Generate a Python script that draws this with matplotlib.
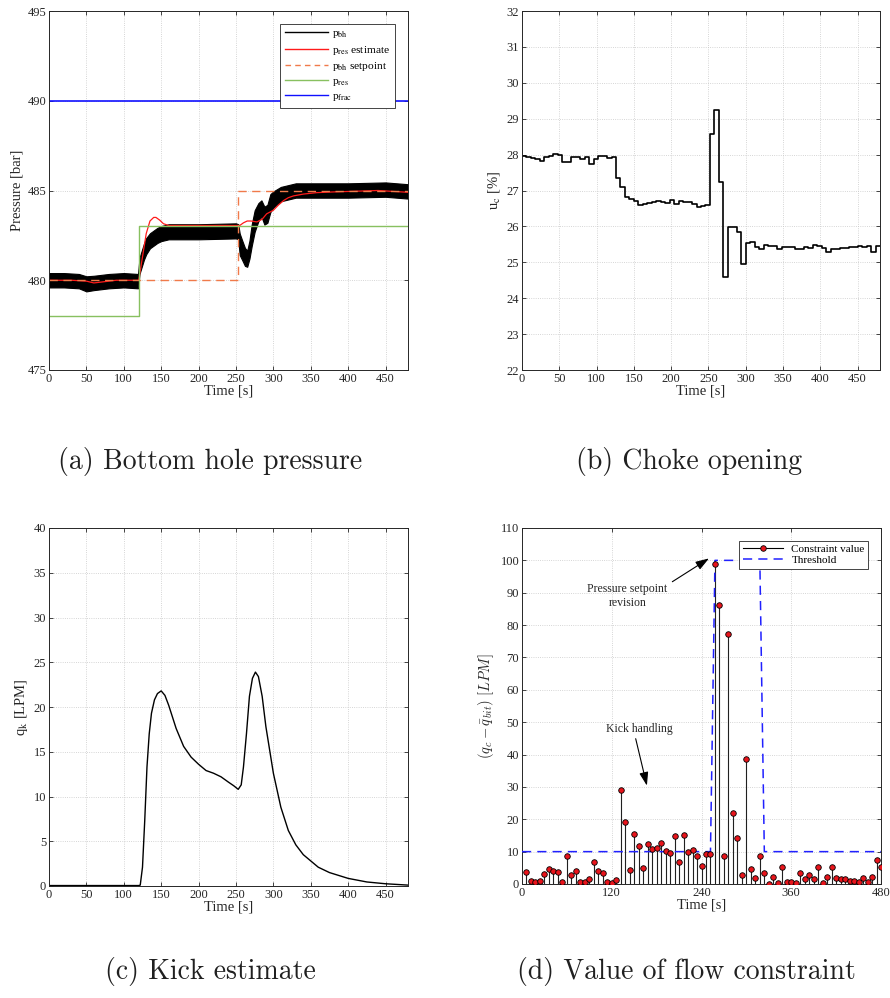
"""
Kick handling results - 4 panel figure
"""

import numpy as np
import matplotlib
matplotlib.use('Agg')
import matplotlib.pyplot as plt
from matplotlib.lines import Line2D

plt.rcParams['font.family'] = ['Liberation Serif', 'DejaVu Serif']
plt.rcParams['mathtext.fontset'] = 'stix'
plt.rcParams['font.size'] = 9
plt.rcParams['axes.unicode_minus'] = False

# ---------------- (a) bottom hole pressure ----------------
pbh_t = [0, 20, 40, 50, 60, 80, 100, 119, 121, 124, 127, 130, 135, 140, 145, 150, 160,
         200, 250, 253, 255, 258, 262, 265, 268, 271, 275, 280, 284, 288, 292, 296, 300,
         310, 320, 330, 350, 400, 450, 480]
pbh_center = [480.0, 480.0, 479.95, 479.8, 479.85, 479.95, 480.0, 479.95, 480.8, 481.2,
              481.6, 481.9, 482.2, 482.35, 482.5, 482.6, 482.7, 482.7, 482.75, 482.7,
              482.0, 481.7, 481.3, 481.2, 481.7, 482.5, 483.3, 483.8, 484.0, 483.6,
              483.7, 484.3, 484.5, 484.8, 484.9, 485.0, 485.0, 485.0, 485.05, 484.95]
pbh_spread = [0.4, 0.4, 0.4, 0.42, 0.4, 0.4, 0.4, 0.4, 0.45, 0.45, 0.45, 0.45, 0.42, 0.42,
              0.42, 0.42, 0.42, 0.42, 0.42, 0.42, 0.6, 0.55, 0.5, 0.45, 0.5, 0.6, 0.6,
              0.5, 0.45, 0.5, 0.5, 0.5, 0.45, 0.4, 0.4, 0.4, 0.4, 0.4, 0.4, 0.4]

pres_est_t = [0, 30, 50, 60, 70, 90, 120, 125, 130, 135, 140, 143, 148, 153, 160, 250,
              255, 260, 265, 270, 278, 285, 291, 300, 307, 314, 320, 327, 340, 358, 380,
              403, 440, 480]
pres_est = [480.0, 480.0, 479.95, 479.85, 479.9, 480.0, 480.0, 481.3, 482.6, 483.3, 483.5,
            483.5, 483.35, 483.15, 483.05, 483.05, 483.05, 483.2, 483.3, 483.3, 483.25,
            483.4, 483.7, 483.9, 484.2, 484.45, 484.6, 484.7, 484.8, 484.88, 484.92,
            484.95, 485.0, 484.9]

setpoint_t = [0, 253, 253, 480]
setpoint = [480, 480, 485, 485]
pres_t = [0, 120, 120, 480]
pres = [478, 478, 483, 483]
pfrac_t = [0, 480]
pfrac = [490, 490]

# ---------------- (b) choke opening (6 s samples) ----------------
uc = [27.97, 27.93, 27.90, 27.88, 27.82, 27.93, 27.97, 28.02, 27.98, 27.78,
      27.78, 27.93, 27.92, 27.88, 27.92, 27.75, 27.87, 27.95, 27.95, 27.90,
      27.93, 27.35, 27.10, 26.82, 26.75, 26.70, 26.60, 26.63, 26.65, 26.67,
      26.70, 26.68, 26.65, 26.73, 26.62, 26.72, 26.68, 26.67, 26.62, 26.55,
      26.58, 26.60, 28.58, 29.25, 27.25, 24.60, 25.97, 25.97, 25.85, 24.95,
      25.55, 25.57, 25.42, 25.38, 25.47, 25.45, 25.45, 25.37, 25.42, 25.42,
      25.42, 25.37, 25.36, 25.43, 25.40, 25.48, 25.45, 25.40, 25.30, 25.38,
      25.37, 25.40, 25.40, 25.42, 25.42, 25.45, 25.43, 25.45, 25.28, 25.45]
uc_t = np.arange(0, 486, 6)

# ---------------- (c) kick estimate ----------------
qk_t = [0, 60, 120, 122, 125, 128, 131, 134, 137, 141, 145, 150, 155, 160, 165, 170, 180,
        190, 200, 210, 220, 230, 240, 247, 253, 257, 260, 264, 268, 272, 276, 280, 285,
        290, 300, 310, 320, 330, 340, 350, 360, 375, 400, 425, 450, 480]
qk = [0.05, 0.05, 0.05, 0.1, 2.1, 7.3, 13.3, 17.0, 19.3, 20.8, 21.5, 21.8, 21.3, 20.2,
      18.9, 17.6, 15.6, 14.4, 13.6, 12.9, 12.6, 12.2, 11.6, 11.2, 10.8, 11.3, 13.3, 17.0,
      21.2, 23.2, 23.9, 23.4, 21.2, 17.8, 12.6, 8.8, 6.2, 4.6, 3.5, 2.8, 2.1, 1.5, 0.85,
      0.45, 0.25, 0.1]

# ---------------- (d) flow constraint ----------------
constraint_t = np.arange(6, 486, 6)
constraint = [3.6, 0.9, 0.6, 0.9, 3.1, 4.5, 3.9, 3.6, 0.6, 8.8,
              2.7, 3.9, 0.6, 0.6, 1.5, 6.9, 3.9, 3.4, 0.6, 0.2,
              1.2, 29.0, 19.1, 4.2, 15.3, 11.8, 4.9, 12.5, 10.7, 11.2,
              12.8, 10.2, 9.6, 14.8, 6.9, 15.0, 9.9, 10.5, 8.8, 5.7,
              9.4, 9.4, 98.8, 86.2, 8.8, 77.2, 21.8, 14.3, 2.7, 38.5,
              4.5, 1.9, 8.8, 3.4, 0.1, 2.1, 0.4, 5.1, 0.6, 0.6,
              0.2, 3.3, 1.5, 2.7, 1.5, 5.4, 0.4, 2.1, 5.4, 1.9,
              1.5, 1.5, 0.9, 0.9, 0.6, 1.9, 0.6, 2.1, 7.4, 5.1]
threshold_t = [0, 252, 258, 318, 324, 480]
threshold = [10, 10, 100, 100, 10, 10]

TXT = '#262626'
LABEL_FS = 10.5
TICK_FS = 9


def style_axes(ax, ylim, yticks, xticks):
    ax.set_xlim(0, 480)
    ax.set_ylim(*ylim)
    ax.set_xticks(xticks)
    ax.set_yticks(yticks)
    ax.grid(True, linestyle=':', color='#c8c8c8', linewidth=0.6)
    ax.set_axisbelow(True)
    ax.tick_params(direction='in', top=True, right=True, length=3, width=0.6,
                   colors=TXT, labelsize=TICK_FS, pad=2)
    for sp in ax.spines.values():
        sp.set_color(TXT)
        sp.set_linewidth(0.7)
    ax.set_xlabel('Time [s]', color=TXT, fontsize=LABEL_FS, labelpad=0)


fig = plt.figure(figsize=(8.9, 9.98), dpi=100)
W, H = 890.0, 998.0


def add_ax(left, top, right, bottom):
    return fig.add_axes([left / W, 1 - bottom / H, (right - left) / W, (bottom - top) / H])


ax_a = add_ax(49, 11, 408, 370)
ax_b = add_ax(522, 11, 880, 370)
ax_c = add_ax(49, 528, 408, 886)
ax_d = add_ax(522, 528, 881, 884)

# (a)
ax_a.fill_between(pbh_t, np.array(pbh_center) - np.array(pbh_spread),
                  np.array(pbh_center) + np.array(pbh_spread), color='black', lw=0.8)
ax_a.plot(pres_est_t, pres_est, color='#ff1a1a', lw=0.9)
ax_a.plot(setpoint_t, setpoint, color='#f07a4a', lw=1.0, dashes=(6, 4))
ax_a.plot(pres_t, pres, color='#88c060', lw=1.0)
ax_a.plot(pfrac_t, pfrac, color='#1010ff', lw=1.2)
style_axes(ax_a, (475, 495), np.arange(475, 496, 5), np.arange(0, 451, 50))
ax_a.set_ylabel('Pressure [bar]', color=TXT, fontsize=LABEL_FS, labelpad=3)
leg_handles = [
    Line2D([], [], color='black', lw=1.0),
    Line2D([], [], color='#ff1a1a', lw=1.0),
    Line2D([], [], color='#f07a4a', lw=1.0, dashes=(4, 3)),
    Line2D([], [], color='#88c060', lw=1.0),
    Line2D([], [], color='#1010ff', lw=1.0),
]
leg_labels = [r'p$_{\rm bh}$', r'p$_{\rm res}$ estimate', r'p$_{\rm bh}$ setpoint',
              r'p$_{\rm res}$', r'p$_{\rm frac}$']
leg = ax_a.legend(leg_handles, leg_labels, loc='upper right', bbox_to_anchor=(0.964, 0.964),
                  borderaxespad=0, fancybox=False, framealpha=1, edgecolor=TXT,
                  fontsize=8.2, handlelength=3.8, labelspacing=0.28, borderpad=0.4,
                  handletextpad=0.4)
leg.get_frame().set_linewidth(0.6)

# (b)
ax_b.plot(uc_t, uc + [uc[-1]], drawstyle='steps-post', color='black', lw=1.2)
style_axes(ax_b, (22, 32), np.arange(22, 33, 1), np.arange(0, 451, 50))
ax_b.set_ylabel(r'u$_{\rm c}$ [%]', color=TXT, fontsize=LABEL_FS, labelpad=3)

# (c)
ax_c.plot(qk_t, qk, color='black', lw=1.0)
style_axes(ax_c, (0, 40), np.arange(0, 41, 5), np.arange(0, 451, 50))
ax_c.set_ylabel(r'q$_{\rm k}$ [LPM]', color=TXT, fontsize=LABEL_FS, labelpad=3)

# (d)
ax_d.plot(threshold_t, threshold, color='#2020ff', lw=1.1, dashes=(6, 4), zorder=3)
markers, stems, base = ax_d.stem(constraint_t, constraint, linefmt='k-', markerfmt='o',
                                 basefmt=' ')
stems.set_linewidth(0.8)
stems.set_color('#202020')
markers.set_markerfacecolor('#e8141b')
markers.set_markeredgecolor('black')
markers.set_markeredgewidth(0.6)
markers.set_markersize(4.0)
markers.set_zorder(4)
style_axes(ax_d, (0, 110), np.arange(0, 111, 10), np.arange(0, 481, 120))
ax_d.set_ylabel(r'$(q_c - \bar{q}_{bit})\ [LPM]$', color=TXT, fontsize=LABEL_FS,
                labelpad=3, math_fontfamily='cm')
d_handles = [
    Line2D([], [], color='black', lw=0.8, marker='o', markerfacecolor='#e8141b',
           markeredgecolor='black', markersize=4.0, markeredgewidth=0.6),
    Line2D([], [], color='#2020ff', lw=1.1, dashes=(6, 4)),
]
leg_d = ax_d.legend(d_handles, ['Constraint value', 'Threshold'], loc='upper right',
                    bbox_to_anchor=(0.964, 0.963), borderaxespad=0, fancybox=False,
                    framealpha=1, edgecolor=TXT, fontsize=8, handlelength=3.6,
                    labelspacing=0.1, borderpad=0.3)
leg_d.get_frame().set_linewidth(0.6)

arrow = dict(arrowstyle='-|>,head_length=0.9,head_width=0.3', color='black', lw=0.8,
             shrinkA=0, shrinkB=0)
ax_d.annotate('', xy=(250, 100.6), xytext=(201, 93.4), arrowprops=arrow)
ax_d.text(141, 89, 'Pressure setpoint\nrevision', ha='center', va='center',
          fontsize=8.5, color=TXT, linespacing=1.3)
ax_d.annotate('', xy=(167, 30.4), xytext=(152, 44.9), arrowprops=arrow)
ax_d.text(157, 48, 'Kick handling', ha='center', va='center', fontsize=8.5, color=TXT)

# captions
cap = dict(ha='center', va='center', fontsize=20, family='cmr10', color='#202020')
fig.text(210 / W, 1 - 462 / H, '(a) Bottom hole pressure', **cap)
fig.text(689 / W, 1 - 462 / H, '(b) Choke opening', **cap)
fig.text(210 / W, 1 - 972 / H, '(c) Kick estimate', **cap)
fig.text(686 / W, 1 - 972 / H, '(d) Value of flow constraint', **cap)

fig.savefig('out.png', dpi=100)
